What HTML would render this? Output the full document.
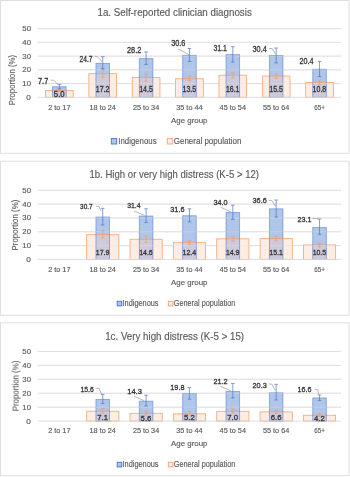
<!DOCTYPE html>
<html><head><meta charset="utf-8"><style>
html,body{margin:0;padding:0;background:#fff;width:350px;height:477px;overflow:hidden}
svg{display:block;will-change:transform;filter:blur(0.3px)}
text{font-family:"Liberation Sans", sans-serif}
</style></head><body>
<svg width="350" height="477" viewBox="0 0 350 477" style="font-family:'Liberation Sans', sans-serif">
<rect x="0.5" y="0.5" width="348.5" height="152.8" fill="#FFFFFF" stroke="#DEDEDE" stroke-width="1"/>
<text x="97.48" y="16.20" font-size="10.3" fill="#595959" stroke="#595959" stroke-width="0.14" textLength="154.33" lengthAdjust="spacingAndGlyphs" >1a. Self-reported clinician diagnosis</text>
<line x1="37.7" x2="341" y1="83.57" y2="83.57" stroke="#D9D9D9" stroke-width="0.9"/>
<line x1="37.7" x2="341" y1="69.84" y2="69.84" stroke="#D9D9D9" stroke-width="0.9"/>
<line x1="37.7" x2="341" y1="56.11" y2="56.11" stroke="#D9D9D9" stroke-width="0.9"/>
<line x1="37.7" x2="341" y1="42.38" y2="42.38" stroke="#D9D9D9" stroke-width="0.9"/>
<line x1="37.7" x2="341" y1="28.65" y2="28.65" stroke="#D9D9D9" stroke-width="0.9"/>
<text x="26.35" y="99.80" font-size="7.0" fill="#595959" stroke="#595959" stroke-width="0.14" textLength="4.63" lengthAdjust="spacingAndGlyphs" >0</text>
<text x="22.35" y="86.07" font-size="7.0" fill="#595959" stroke="#595959" stroke-width="0.14" textLength="8.63" lengthAdjust="spacingAndGlyphs" >10</text>
<text x="22.35" y="72.34" font-size="7.0" fill="#595959" stroke="#595959" stroke-width="0.14" textLength="8.63" lengthAdjust="spacingAndGlyphs" >20</text>
<text x="22.35" y="58.61" font-size="7.0" fill="#595959" stroke="#595959" stroke-width="0.14" textLength="8.63" lengthAdjust="spacingAndGlyphs" >30</text>
<text x="22.35" y="44.88" font-size="7.0" fill="#595959" stroke="#595959" stroke-width="0.14" textLength="8.63" lengthAdjust="spacingAndGlyphs" >40</text>
<text x="22.35" y="31.15" font-size="7.0" fill="#595959" stroke="#595959" stroke-width="0.14" textLength="8.63" lengthAdjust="spacingAndGlyphs" >50</text>
<rect x="45.53" y="90.44" width="27.70" height="6.86" fill="#FDEDE3" stroke="#F2A474" stroke-width="0.8"/>
<rect x="52.58" y="86.73" width="13.60" height="10.57" fill="#AFC5EA" stroke="none"/>
<rect x="52.58" y="90.44" width="13.60" height="6.86" fill="#CDCADC" stroke="none"/>
<line x1="52.58" x2="66.18" y1="90.44" y2="90.44" stroke="#EFA273" stroke-width="0.9"/>
<rect x="52.58" y="86.73" width="13.60" height="10.57" fill="none" stroke="#4472C4" stroke-width="0.9" stroke-opacity="0.55"/>
<rect x="88.89" y="73.68" width="27.70" height="23.62" fill="#FDEDE3" stroke="#F2A474" stroke-width="0.8"/>
<rect x="95.94" y="63.39" width="13.60" height="33.91" fill="#AFC5EA" stroke="none"/>
<rect x="95.94" y="73.68" width="13.60" height="23.62" fill="#CDCADC" stroke="none"/>
<line x1="95.94" x2="109.54" y1="73.68" y2="73.68" stroke="#EFA273" stroke-width="0.9"/>
<rect x="95.94" y="63.39" width="13.60" height="33.91" fill="none" stroke="#4472C4" stroke-width="0.9" stroke-opacity="0.55"/>
<rect x="132.25" y="77.39" width="27.70" height="19.91" fill="#FDEDE3" stroke="#F2A474" stroke-width="0.8"/>
<rect x="139.30" y="58.58" width="13.60" height="38.72" fill="#AFC5EA" stroke="none"/>
<rect x="139.30" y="77.39" width="13.60" height="19.91" fill="#CDCADC" stroke="none"/>
<line x1="139.30" x2="152.90" y1="77.39" y2="77.39" stroke="#EFA273" stroke-width="0.9"/>
<rect x="139.30" y="58.58" width="13.60" height="38.72" fill="none" stroke="#4472C4" stroke-width="0.9" stroke-opacity="0.55"/>
<rect x="175.61" y="78.76" width="27.70" height="18.54" fill="#FDEDE3" stroke="#F2A474" stroke-width="0.8"/>
<rect x="182.66" y="55.29" width="13.60" height="42.01" fill="#AFC5EA" stroke="none"/>
<rect x="182.66" y="78.76" width="13.60" height="18.54" fill="#CDCADC" stroke="none"/>
<line x1="182.66" x2="196.26" y1="78.76" y2="78.76" stroke="#EFA273" stroke-width="0.9"/>
<rect x="182.66" y="55.29" width="13.60" height="42.01" fill="none" stroke="#4472C4" stroke-width="0.9" stroke-opacity="0.55"/>
<rect x="218.97" y="75.19" width="27.70" height="22.11" fill="#FDEDE3" stroke="#F2A474" stroke-width="0.8"/>
<rect x="226.02" y="54.60" width="13.60" height="42.70" fill="#AFC5EA" stroke="none"/>
<rect x="226.02" y="75.19" width="13.60" height="22.11" fill="#CDCADC" stroke="none"/>
<line x1="226.02" x2="239.62" y1="75.19" y2="75.19" stroke="#EFA273" stroke-width="0.9"/>
<rect x="226.02" y="54.60" width="13.60" height="42.70" fill="none" stroke="#4472C4" stroke-width="0.9" stroke-opacity="0.55"/>
<rect x="262.33" y="76.02" width="27.70" height="21.28" fill="#FDEDE3" stroke="#F2A474" stroke-width="0.8"/>
<rect x="269.38" y="55.56" width="13.60" height="41.74" fill="#AFC5EA" stroke="none"/>
<rect x="269.38" y="76.02" width="13.60" height="21.28" fill="#CDCADC" stroke="none"/>
<line x1="269.38" x2="282.98" y1="76.02" y2="76.02" stroke="#EFA273" stroke-width="0.9"/>
<rect x="269.38" y="55.56" width="13.60" height="41.74" fill="none" stroke="#4472C4" stroke-width="0.9" stroke-opacity="0.55"/>
<rect x="305.69" y="82.47" width="27.70" height="14.83" fill="#FDEDE3" stroke="#F2A474" stroke-width="0.8"/>
<rect x="312.74" y="69.29" width="13.60" height="28.01" fill="#AFC5EA" stroke="none"/>
<rect x="312.74" y="82.47" width="13.60" height="14.83" fill="#CDCADC" stroke="none"/>
<line x1="312.74" x2="326.34" y1="82.47" y2="82.47" stroke="#EFA273" stroke-width="0.9"/>
<rect x="312.74" y="69.29" width="13.60" height="28.01" fill="none" stroke="#4472C4" stroke-width="0.9" stroke-opacity="0.55"/>
<line x1="37.7" x2="341" y1="83.57" y2="83.57" stroke="#E4E4E4" stroke-width="0.9" stroke-opacity="0.4"/>
<line x1="37.7" x2="341" y1="69.84" y2="69.84" stroke="#E4E4E4" stroke-width="0.9" stroke-opacity="0.4"/>
<line x1="37.7" x2="341" y1="56.11" y2="56.11" stroke="#E4E4E4" stroke-width="0.9" stroke-opacity="0.4"/>
<line x1="37.7" x2="341" y1="42.38" y2="42.38" stroke="#E4E4E4" stroke-width="0.9" stroke-opacity="0.4"/>
<line x1="37.7" x2="341" y1="28.65" y2="28.65" stroke="#E4E4E4" stroke-width="0.9" stroke-opacity="0.4"/>
<line x1="37.7" x2="341" y1="97.30" y2="97.30" stroke="#D9D9D9" stroke-width="0.9"/>
<path d="M59.38 89.20V91.20M57.58 89.20H61.18M57.58 91.20H61.18" stroke="#EE9D6A" stroke-width="0.7" fill="none"/>
<path d="M59.38 84.30V88.90M57.58 84.30H61.18M57.58 88.90H61.18" stroke="#4F75C2" stroke-width="0.7" fill="none"/>
<path d="M102.74 69.60V77.30M100.94 69.60H104.54M100.94 77.30H104.54" stroke="#EE9D6A" stroke-width="0.7" fill="none"/>
<path d="M102.74 56.70V68.80M100.94 56.70H104.54M100.94 68.80H104.54" stroke="#4F75C2" stroke-width="0.7" fill="none"/>
<path d="M146.10 74.20V81.10M144.30 74.20H147.90M144.30 81.10H147.90" stroke="#EE9D6A" stroke-width="0.7" fill="none"/>
<path d="M146.10 52.00V64.40M144.30 52.00H147.90M144.30 64.40H147.90" stroke="#4F75C2" stroke-width="0.7" fill="none"/>
<path d="M189.46 76.30V80.60M187.66 76.30H191.26M187.66 80.60H191.26" stroke="#EE9D6A" stroke-width="0.7" fill="none"/>
<path d="M189.46 48.50V61.50M187.66 48.50H191.26M187.66 61.50H191.26" stroke="#4F75C2" stroke-width="0.7" fill="none"/>
<path d="M232.82 72.40V78.00M231.02 72.40H234.62M231.02 78.00H234.62" stroke="#EE9D6A" stroke-width="0.7" fill="none"/>
<path d="M232.82 46.70V62.10M231.02 46.70H234.62M231.02 62.10H234.62" stroke="#4F75C2" stroke-width="0.7" fill="none"/>
<path d="M276.18 73.70V78.30M274.38 73.70H277.98M274.38 78.30H277.98" stroke="#EE9D6A" stroke-width="0.7" fill="none"/>
<path d="M276.18 48.00V62.90M274.38 48.00H277.98M274.38 62.90H277.98" stroke="#4F75C2" stroke-width="0.7" fill="none"/>
<path d="M319.54 80.00V84.30M317.74 80.00H321.34M317.74 84.30H321.34" stroke="#EE9D6A" stroke-width="0.7" fill="none"/>
<path d="M319.54 61.40V76.60M317.74 61.40H321.34M317.74 76.60H321.34" stroke="#4F75C2" stroke-width="0.7" fill="none"/>
<path d="M50.90 80.20 L53.60 80.30 L57.90 84.30" stroke="#A0A0A0" stroke-width="0.75" fill="none"/>
<path d="M94.50 56.40 L97.00 56.40 L102.00 61.30" stroke="#A0A0A0" stroke-width="0.75" fill="none"/>
<path d="M178.10 48.90 L189.00 54.70" stroke="#A0A0A0" stroke-width="0.75" fill="none"/>
<path d="M269.20 48.50 L272.00 48.50 L275.80 54.50" stroke="#A0A0A0" stroke-width="0.75" fill="none"/>
<text x="38.08" y="84.02" font-size="8.5" fill="#333333" stroke="#333333" stroke-width="0.3" textLength="10.10" lengthAdjust="spacingAndGlyphs" >7.7</text>
<text x="79.58" y="61.72" font-size="8.5" fill="#333333" stroke="#333333" stroke-width="0.3" textLength="12.89" lengthAdjust="spacingAndGlyphs" >24.7</text>
<text x="126.98" y="53.42" font-size="8.5" fill="#333333" stroke="#333333" stroke-width="0.3" textLength="14.29" lengthAdjust="spacingAndGlyphs" >28.2</text>
<text x="171.17" y="45.82" font-size="8.5" fill="#333333" stroke="#333333" stroke-width="0.3" textLength="14.30" lengthAdjust="spacingAndGlyphs" >30.6</text>
<text x="213.38" y="50.92" font-size="8.5" fill="#333333" stroke="#333333" stroke-width="0.3" textLength="13.49" lengthAdjust="spacingAndGlyphs" >31.1</text>
<text x="252.47" y="51.52" font-size="8.5" fill="#333333" stroke="#333333" stroke-width="0.3" textLength="14.30" lengthAdjust="spacingAndGlyphs" >30.4</text>
<text x="299.57" y="64.32" font-size="8.5" fill="#333333" stroke="#333333" stroke-width="0.3" textLength="13.99" lengthAdjust="spacingAndGlyphs" >20.4</text>
<text x="53.86" y="96.92" font-size="8.5" fill="#333333" stroke="#333333" stroke-width="0.3" textLength="10.80" lengthAdjust="spacingAndGlyphs" >5.0</text>
<text x="95.81" y="92.12" font-size="8.5" fill="#333333" stroke="#333333" stroke-width="0.3" textLength="13.60" lengthAdjust="spacingAndGlyphs" >17.2</text>
<text x="139.18" y="92.12" font-size="8.5" fill="#333333" stroke="#333333" stroke-width="0.3" textLength="13.60" lengthAdjust="spacingAndGlyphs" >14.5</text>
<text x="182.53" y="92.12" font-size="8.5" fill="#333333" stroke="#333333" stroke-width="0.3" textLength="13.60" lengthAdjust="spacingAndGlyphs" >13.5</text>
<text x="225.89" y="92.12" font-size="8.5" fill="#333333" stroke="#333333" stroke-width="0.3" textLength="13.60" lengthAdjust="spacingAndGlyphs" >16.1</text>
<text x="269.25" y="92.12" font-size="8.5" fill="#333333" stroke="#333333" stroke-width="0.3" textLength="13.60" lengthAdjust="spacingAndGlyphs" >15.5</text>
<text x="312.61" y="92.12" font-size="8.5" fill="#333333" stroke="#333333" stroke-width="0.3" textLength="13.60" lengthAdjust="spacingAndGlyphs" >10.8</text>
<text x="48.16" y="109.70" font-size="7.3" fill="#595959" stroke="#595959" stroke-width="0.14" textLength="22.36" lengthAdjust="spacingAndGlyphs" >2 to 17</text>
<text x="89.53" y="109.70" font-size="7.3" fill="#595959" stroke="#595959" stroke-width="0.14" textLength="26.36" lengthAdjust="spacingAndGlyphs" >18 to 24</text>
<text x="132.89" y="109.70" font-size="7.3" fill="#595959" stroke="#595959" stroke-width="0.14" textLength="26.36" lengthAdjust="spacingAndGlyphs" >25 to 34</text>
<text x="176.24" y="109.70" font-size="7.3" fill="#595959" stroke="#595959" stroke-width="0.14" textLength="26.36" lengthAdjust="spacingAndGlyphs" >35 to 44</text>
<text x="219.60" y="109.70" font-size="7.3" fill="#595959" stroke="#595959" stroke-width="0.14" textLength="26.36" lengthAdjust="spacingAndGlyphs" >45 to 54</text>
<text x="262.96" y="109.70" font-size="7.3" fill="#595959" stroke="#595959" stroke-width="0.14" textLength="26.36" lengthAdjust="spacingAndGlyphs" >55 to 64</text>
<text x="314.17" y="109.70" font-size="7.3" fill="#595959" stroke="#595959" stroke-width="0.14" textLength="10.66" lengthAdjust="spacingAndGlyphs" >65+</text>
<text x="171.06" y="122.60" font-size="7.9" fill="#595959" stroke="#595959" stroke-width="0.14" textLength="36.41" lengthAdjust="spacingAndGlyphs" >Age group</text>
<rect x="111.30" y="138.60" width="5.40" height="5.40" fill="#AFC5EA" stroke="#4472C4" stroke-width="0.9"/>
<rect x="167.30" y="138.60" width="5.40" height="5.40" fill="#FDEDE3" stroke="#F2A474" stroke-width="0.9"/>
<text x="118.36" y="143.90" font-size="8.8" fill="#595959" stroke="#595959" stroke-width="0.14" textLength="38.19" lengthAdjust="spacingAndGlyphs" >Indigenous</text>
<text x="173.76" y="143.90" font-size="8.8" fill="#595959" stroke="#595959" stroke-width="0.14" textLength="67.59" lengthAdjust="spacingAndGlyphs" >General population</text>
<text transform="translate(12.60 80.10) rotate(-90)" x="-25.20" y="2.7" font-size="8.2" fill="#595959" stroke="#595959" stroke-width="0.1" textLength="50.40" lengthAdjust="spacingAndGlyphs">Proportion (%)</text>
<rect x="0.5" y="161.2" width="348.5" height="154.1" fill="#FFFFFF" stroke="#DEDEDE" stroke-width="1"/>
<text x="89.48" y="177.80" font-size="10.3" fill="#595959" stroke="#595959" stroke-width="0.14" textLength="169.53" lengthAdjust="spacingAndGlyphs" >1b. High or very high distress (K-5 &gt; 12)</text>
<line x1="37.7" x2="341" y1="245.62" y2="245.62" stroke="#D9D9D9" stroke-width="0.9"/>
<line x1="37.7" x2="341" y1="231.79" y2="231.79" stroke="#D9D9D9" stroke-width="0.9"/>
<line x1="37.7" x2="341" y1="217.96" y2="217.96" stroke="#D9D9D9" stroke-width="0.9"/>
<line x1="37.7" x2="341" y1="204.13" y2="204.13" stroke="#D9D9D9" stroke-width="0.9"/>
<line x1="37.7" x2="341" y1="190.30" y2="190.30" stroke="#D9D9D9" stroke-width="0.9"/>
<text x="26.35" y="261.95" font-size="7.0" fill="#595959" stroke="#595959" stroke-width="0.14" textLength="4.63" lengthAdjust="spacingAndGlyphs" >0</text>
<text x="22.35" y="248.12" font-size="7.0" fill="#595959" stroke="#595959" stroke-width="0.14" textLength="8.63" lengthAdjust="spacingAndGlyphs" >10</text>
<text x="22.35" y="234.29" font-size="7.0" fill="#595959" stroke="#595959" stroke-width="0.14" textLength="8.63" lengthAdjust="spacingAndGlyphs" >20</text>
<text x="22.35" y="220.46" font-size="7.0" fill="#595959" stroke="#595959" stroke-width="0.14" textLength="8.63" lengthAdjust="spacingAndGlyphs" >30</text>
<text x="22.35" y="206.63" font-size="7.0" fill="#595959" stroke="#595959" stroke-width="0.14" textLength="8.63" lengthAdjust="spacingAndGlyphs" >40</text>
<text x="22.35" y="192.80" font-size="7.0" fill="#595959" stroke="#595959" stroke-width="0.14" textLength="8.63" lengthAdjust="spacingAndGlyphs" >50</text>
<rect x="86.64" y="234.69" width="32.20" height="24.76" fill="#FDEDE3" stroke="#F2A474" stroke-width="0.8"/>
<rect x="95.94" y="216.99" width="13.60" height="42.46" fill="#AFC5EA" stroke="none"/>
<rect x="95.94" y="234.69" width="13.60" height="24.76" fill="#CDCADC" stroke="none"/>
<line x1="95.94" x2="109.54" y1="234.69" y2="234.69" stroke="#EFA273" stroke-width="0.9"/>
<rect x="95.94" y="216.99" width="13.60" height="42.46" fill="none" stroke="#4472C4" stroke-width="0.9" stroke-opacity="0.55"/>
<rect x="130.00" y="239.26" width="32.20" height="20.19" fill="#FDEDE3" stroke="#F2A474" stroke-width="0.8"/>
<rect x="139.30" y="216.02" width="13.60" height="43.43" fill="#AFC5EA" stroke="none"/>
<rect x="139.30" y="239.26" width="13.60" height="20.19" fill="#CDCADC" stroke="none"/>
<line x1="139.30" x2="152.90" y1="239.26" y2="239.26" stroke="#EFA273" stroke-width="0.9"/>
<rect x="139.30" y="216.02" width="13.60" height="43.43" fill="none" stroke="#4472C4" stroke-width="0.9" stroke-opacity="0.55"/>
<rect x="173.36" y="242.30" width="32.20" height="17.15" fill="#FDEDE3" stroke="#F2A474" stroke-width="0.8"/>
<rect x="182.66" y="215.75" width="13.60" height="43.70" fill="#AFC5EA" stroke="none"/>
<rect x="182.66" y="242.30" width="13.60" height="17.15" fill="#CDCADC" stroke="none"/>
<line x1="182.66" x2="196.26" y1="242.30" y2="242.30" stroke="#EFA273" stroke-width="0.9"/>
<rect x="182.66" y="215.75" width="13.60" height="43.70" fill="none" stroke="#4472C4" stroke-width="0.9" stroke-opacity="0.55"/>
<rect x="216.72" y="238.84" width="32.20" height="20.61" fill="#FDEDE3" stroke="#F2A474" stroke-width="0.8"/>
<rect x="226.02" y="212.43" width="13.60" height="47.02" fill="#AFC5EA" stroke="none"/>
<rect x="226.02" y="238.84" width="13.60" height="20.61" fill="#CDCADC" stroke="none"/>
<line x1="226.02" x2="239.62" y1="238.84" y2="238.84" stroke="#EFA273" stroke-width="0.9"/>
<rect x="226.02" y="212.43" width="13.60" height="47.02" fill="none" stroke="#4472C4" stroke-width="0.9" stroke-opacity="0.55"/>
<rect x="260.08" y="238.57" width="32.20" height="20.88" fill="#FDEDE3" stroke="#F2A474" stroke-width="0.8"/>
<rect x="269.38" y="208.83" width="13.60" height="50.62" fill="#AFC5EA" stroke="none"/>
<rect x="269.38" y="238.57" width="13.60" height="20.88" fill="#CDCADC" stroke="none"/>
<line x1="269.38" x2="282.98" y1="238.57" y2="238.57" stroke="#EFA273" stroke-width="0.9"/>
<rect x="269.38" y="208.83" width="13.60" height="50.62" fill="none" stroke="#4472C4" stroke-width="0.9" stroke-opacity="0.55"/>
<rect x="303.44" y="244.93" width="32.20" height="14.52" fill="#FDEDE3" stroke="#F2A474" stroke-width="0.8"/>
<rect x="312.74" y="227.50" width="13.60" height="31.95" fill="#AFC5EA" stroke="none"/>
<rect x="312.74" y="244.93" width="13.60" height="14.52" fill="#CDCADC" stroke="none"/>
<line x1="312.74" x2="326.34" y1="244.93" y2="244.93" stroke="#EFA273" stroke-width="0.9"/>
<rect x="312.74" y="227.50" width="13.60" height="31.95" fill="none" stroke="#4472C4" stroke-width="0.9" stroke-opacity="0.55"/>
<line x1="37.7" x2="341" y1="245.62" y2="245.62" stroke="#E4E4E4" stroke-width="0.9" stroke-opacity="0.4"/>
<line x1="37.7" x2="341" y1="231.79" y2="231.79" stroke="#E4E4E4" stroke-width="0.9" stroke-opacity="0.4"/>
<line x1="37.7" x2="341" y1="217.96" y2="217.96" stroke="#E4E4E4" stroke-width="0.9" stroke-opacity="0.4"/>
<line x1="37.7" x2="341" y1="204.13" y2="204.13" stroke="#E4E4E4" stroke-width="0.9" stroke-opacity="0.4"/>
<line x1="37.7" x2="341" y1="190.30" y2="190.30" stroke="#E4E4E4" stroke-width="0.9" stroke-opacity="0.4"/>
<line x1="37.7" x2="341" y1="259.45" y2="259.45" stroke="#D9D9D9" stroke-width="0.9"/>
<path d="M102.74 230.60V237.80M100.94 230.60H104.54M100.94 237.80H104.54" stroke="#EE9D6A" stroke-width="0.7" fill="none"/>
<path d="M102.74 208.30V225.00M100.94 208.30H104.54M100.94 225.00H104.54" stroke="#4F75C2" stroke-width="0.7" fill="none"/>
<path d="M146.10 236.00V242.50M144.30 236.00H147.90M144.30 242.50H147.90" stroke="#EE9D6A" stroke-width="0.7" fill="none"/>
<path d="M146.10 208.80V222.40M144.30 208.80H147.90M144.30 222.40H147.90" stroke="#4F75C2" stroke-width="0.7" fill="none"/>
<path d="M189.46 240.40V244.30M187.66 240.40H191.26M187.66 244.30H191.26" stroke="#EE9D6A" stroke-width="0.7" fill="none"/>
<path d="M189.46 208.80V221.90M187.66 208.80H191.26M187.66 221.90H191.26" stroke="#4F75C2" stroke-width="0.7" fill="none"/>
<path d="M232.82 236.60V241.20M231.02 236.60H234.62M231.02 241.20H234.62" stroke="#EE9D6A" stroke-width="0.7" fill="none"/>
<path d="M232.82 205.20V219.30M231.02 205.20H234.62M231.02 219.30H234.62" stroke="#4F75C2" stroke-width="0.7" fill="none"/>
<path d="M276.18 236.30V240.90M274.38 236.30H277.98M274.38 240.90H277.98" stroke="#EE9D6A" stroke-width="0.7" fill="none"/>
<path d="M276.18 200.00V217.10M274.38 200.00H277.98M274.38 217.10H277.98" stroke="#4F75C2" stroke-width="0.7" fill="none"/>
<path d="M319.54 243.40V247.10M317.74 243.40H321.34M317.74 247.10H321.34" stroke="#EE9D6A" stroke-width="0.7" fill="none"/>
<path d="M319.54 219.10V234.30M317.74 219.10H321.34M317.74 234.30H321.34" stroke="#4F75C2" stroke-width="0.7" fill="none"/>
<path d="M96.20 206.30 L99.00 206.50 L101.00 211.00" stroke="#A0A0A0" stroke-width="0.75" fill="none"/>
<path d="M134.10 211.20 L144.50 215.20" stroke="#A0A0A0" stroke-width="0.75" fill="none"/>
<path d="M220.70 207.30 L231.00 212.00" stroke="#A0A0A0" stroke-width="0.75" fill="none"/>
<path d="M269.20 200.50 L271.80 200.50 L275.60 206.50" stroke="#A0A0A0" stroke-width="0.75" fill="none"/>
<path d="M312.50 218.60 L317.00 218.60 L319.50 219.20" stroke="#A0A0A0" stroke-width="0.75" fill="none"/>
<text x="80.10" y="209.05" font-size="8.0" fill="#333333" stroke="#333333" stroke-width="0.3" textLength="12.56" lengthAdjust="spacingAndGlyphs" >30.7</text>
<text x="127.20" y="208.45" font-size="8.0" fill="#333333" stroke="#333333" stroke-width="0.3" textLength="13.36" lengthAdjust="spacingAndGlyphs" >31.4</text>
<text x="170.30" y="211.55" font-size="8.0" fill="#333333" stroke="#333333" stroke-width="0.3" textLength="14.16" lengthAdjust="spacingAndGlyphs" >31.6</text>
<text x="213.40" y="204.65" font-size="8.0" fill="#333333" stroke="#333333" stroke-width="0.3" textLength="14.26" lengthAdjust="spacingAndGlyphs" >34.0</text>
<text x="252.50" y="203.35" font-size="8.0" fill="#333333" stroke="#333333" stroke-width="0.3" textLength="14.26" lengthAdjust="spacingAndGlyphs" >36.6</text>
<text x="297.60" y="222.15" font-size="8.0" fill="#333333" stroke="#333333" stroke-width="0.3" textLength="13.96" lengthAdjust="spacingAndGlyphs" >23.1</text>
<text x="95.84" y="254.55" font-size="8.0" fill="#333333" stroke="#333333" stroke-width="0.3" textLength="13.56" lengthAdjust="spacingAndGlyphs" >17.9</text>
<text x="139.20" y="254.55" font-size="8.0" fill="#333333" stroke="#333333" stroke-width="0.3" textLength="13.56" lengthAdjust="spacingAndGlyphs" >14.6</text>
<text x="182.56" y="254.55" font-size="8.0" fill="#333333" stroke="#333333" stroke-width="0.3" textLength="13.56" lengthAdjust="spacingAndGlyphs" >12.4</text>
<text x="225.92" y="254.55" font-size="8.0" fill="#333333" stroke="#333333" stroke-width="0.3" textLength="13.56" lengthAdjust="spacingAndGlyphs" >14.9</text>
<text x="269.28" y="254.55" font-size="8.0" fill="#333333" stroke="#333333" stroke-width="0.3" textLength="13.56" lengthAdjust="spacingAndGlyphs" >15.1</text>
<text x="312.64" y="254.55" font-size="8.0" fill="#333333" stroke="#333333" stroke-width="0.3" textLength="13.56" lengthAdjust="spacingAndGlyphs" >10.5</text>
<text x="48.16" y="271.80" font-size="7.3" fill="#595959" stroke="#595959" stroke-width="0.14" textLength="22.36" lengthAdjust="spacingAndGlyphs" >2 to 17</text>
<text x="89.53" y="271.80" font-size="7.3" fill="#595959" stroke="#595959" stroke-width="0.14" textLength="26.36" lengthAdjust="spacingAndGlyphs" >18 to 24</text>
<text x="132.89" y="271.80" font-size="7.3" fill="#595959" stroke="#595959" stroke-width="0.14" textLength="26.36" lengthAdjust="spacingAndGlyphs" >25 to 34</text>
<text x="176.24" y="271.80" font-size="7.3" fill="#595959" stroke="#595959" stroke-width="0.14" textLength="26.36" lengthAdjust="spacingAndGlyphs" >35 to 44</text>
<text x="219.60" y="271.80" font-size="7.3" fill="#595959" stroke="#595959" stroke-width="0.14" textLength="26.36" lengthAdjust="spacingAndGlyphs" >45 to 54</text>
<text x="262.96" y="271.80" font-size="7.3" fill="#595959" stroke="#595959" stroke-width="0.14" textLength="26.36" lengthAdjust="spacingAndGlyphs" >55 to 64</text>
<text x="314.17" y="271.80" font-size="7.3" fill="#595959" stroke="#595959" stroke-width="0.14" textLength="10.66" lengthAdjust="spacingAndGlyphs" >65+</text>
<text x="171.06" y="284.60" font-size="7.9" fill="#595959" stroke="#595959" stroke-width="0.14" textLength="36.41" lengthAdjust="spacingAndGlyphs" >Age group</text>
<rect x="117.20" y="301.30" width="4.60" height="4.60" fill="#AFC5EA" stroke="#4472C4" stroke-width="0.9"/>
<rect x="168.30" y="301.30" width="4.60" height="4.60" fill="#FDEDE3" stroke="#F2A474" stroke-width="0.9"/>
<text x="122.59" y="306.20" font-size="8.2" fill="#595959" stroke="#595959" stroke-width="0.14" textLength="35.94" lengthAdjust="spacingAndGlyphs" >Indigenous</text>
<text x="173.79" y="306.20" font-size="8.2" fill="#595959" stroke="#595959" stroke-width="0.14" textLength="61.54" lengthAdjust="spacingAndGlyphs" >General population</text>
<text transform="translate(15.60 225.10) rotate(-90)" x="-25.40" y="2.7" font-size="8.2" fill="#595959" stroke="#595959" stroke-width="0.1" textLength="50.80" lengthAdjust="spacingAndGlyphs">Proportion (%)</text>
<rect x="0.5" y="322.8" width="348.5" height="152.9" fill="#FFFFFF" stroke="#DEDEDE" stroke-width="1"/>
<text x="105.19" y="339.80" font-size="10.3" fill="#595959" stroke="#595959" stroke-width="0.14" textLength="138.93" lengthAdjust="spacingAndGlyphs" >1c. Very high distress (K-5 &gt; 15)</text>
<line x1="37.7" x2="341" y1="407.16" y2="407.16" stroke="#D9D9D9" stroke-width="0.9"/>
<line x1="37.7" x2="341" y1="393.22" y2="393.22" stroke="#D9D9D9" stroke-width="0.9"/>
<line x1="37.7" x2="341" y1="379.28" y2="379.28" stroke="#D9D9D9" stroke-width="0.9"/>
<line x1="37.7" x2="341" y1="365.34" y2="365.34" stroke="#D9D9D9" stroke-width="0.9"/>
<line x1="37.7" x2="341" y1="351.40" y2="351.40" stroke="#D9D9D9" stroke-width="0.9"/>
<text x="26.35" y="423.60" font-size="7.0" fill="#595959" stroke="#595959" stroke-width="0.14" textLength="4.63" lengthAdjust="spacingAndGlyphs" >0</text>
<text x="22.35" y="409.66" font-size="7.0" fill="#595959" stroke="#595959" stroke-width="0.14" textLength="8.63" lengthAdjust="spacingAndGlyphs" >10</text>
<text x="22.35" y="395.72" font-size="7.0" fill="#595959" stroke="#595959" stroke-width="0.14" textLength="8.63" lengthAdjust="spacingAndGlyphs" >20</text>
<text x="22.35" y="381.78" font-size="7.0" fill="#595959" stroke="#595959" stroke-width="0.14" textLength="8.63" lengthAdjust="spacingAndGlyphs" >30</text>
<text x="22.35" y="367.84" font-size="7.0" fill="#595959" stroke="#595959" stroke-width="0.14" textLength="8.63" lengthAdjust="spacingAndGlyphs" >40</text>
<text x="22.35" y="353.90" font-size="7.0" fill="#595959" stroke="#595959" stroke-width="0.14" textLength="8.63" lengthAdjust="spacingAndGlyphs" >50</text>
<rect x="86.64" y="411.20" width="32.20" height="9.90" fill="#FDEDE3" stroke="#F2A474" stroke-width="0.8"/>
<rect x="95.94" y="399.35" width="13.60" height="21.75" fill="#AFC5EA" stroke="none"/>
<rect x="95.94" y="411.20" width="13.60" height="9.90" fill="#CDCADC" stroke="none"/>
<line x1="95.94" x2="109.54" y1="411.20" y2="411.20" stroke="#EFA273" stroke-width="0.9"/>
<rect x="95.94" y="399.35" width="13.60" height="21.75" fill="none" stroke="#4472C4" stroke-width="0.9" stroke-opacity="0.55"/>
<rect x="130.00" y="413.29" width="32.20" height="7.81" fill="#FDEDE3" stroke="#F2A474" stroke-width="0.8"/>
<rect x="139.30" y="401.17" width="13.60" height="19.93" fill="#AFC5EA" stroke="none"/>
<rect x="139.30" y="413.29" width="13.60" height="7.81" fill="#CDCADC" stroke="none"/>
<line x1="139.30" x2="152.90" y1="413.29" y2="413.29" stroke="#EFA273" stroke-width="0.9"/>
<rect x="139.30" y="401.17" width="13.60" height="19.93" fill="none" stroke="#4472C4" stroke-width="0.9" stroke-opacity="0.55"/>
<rect x="173.36" y="413.85" width="32.20" height="7.25" fill="#FDEDE3" stroke="#F2A474" stroke-width="0.8"/>
<rect x="182.66" y="393.50" width="13.60" height="27.60" fill="#AFC5EA" stroke="none"/>
<rect x="182.66" y="413.85" width="13.60" height="7.25" fill="#CDCADC" stroke="none"/>
<line x1="182.66" x2="196.26" y1="413.85" y2="413.85" stroke="#EFA273" stroke-width="0.9"/>
<rect x="182.66" y="393.50" width="13.60" height="27.60" fill="none" stroke="#4472C4" stroke-width="0.9" stroke-opacity="0.55"/>
<rect x="216.72" y="411.34" width="32.20" height="9.76" fill="#FDEDE3" stroke="#F2A474" stroke-width="0.8"/>
<rect x="226.02" y="391.55" width="13.60" height="29.55" fill="#AFC5EA" stroke="none"/>
<rect x="226.02" y="411.34" width="13.60" height="9.76" fill="#CDCADC" stroke="none"/>
<line x1="226.02" x2="239.62" y1="411.34" y2="411.34" stroke="#EFA273" stroke-width="0.9"/>
<rect x="226.02" y="391.55" width="13.60" height="29.55" fill="none" stroke="#4472C4" stroke-width="0.9" stroke-opacity="0.55"/>
<rect x="260.08" y="411.90" width="32.20" height="9.20" fill="#FDEDE3" stroke="#F2A474" stroke-width="0.8"/>
<rect x="269.38" y="392.80" width="13.60" height="28.30" fill="#AFC5EA" stroke="none"/>
<rect x="269.38" y="411.90" width="13.60" height="9.20" fill="#CDCADC" stroke="none"/>
<line x1="269.38" x2="282.98" y1="411.90" y2="411.90" stroke="#EFA273" stroke-width="0.9"/>
<rect x="269.38" y="392.80" width="13.60" height="28.30" fill="none" stroke="#4472C4" stroke-width="0.9" stroke-opacity="0.55"/>
<rect x="303.44" y="415.25" width="32.20" height="5.85" fill="#FDEDE3" stroke="#F2A474" stroke-width="0.8"/>
<rect x="312.74" y="397.96" width="13.60" height="23.14" fill="#AFC5EA" stroke="none"/>
<rect x="312.74" y="415.25" width="13.60" height="5.85" fill="#CDCADC" stroke="none"/>
<line x1="312.74" x2="326.34" y1="415.25" y2="415.25" stroke="#EFA273" stroke-width="0.9"/>
<rect x="312.74" y="397.96" width="13.60" height="23.14" fill="none" stroke="#4472C4" stroke-width="0.9" stroke-opacity="0.55"/>
<line x1="37.7" x2="341" y1="407.16" y2="407.16" stroke="#E4E4E4" stroke-width="0.9" stroke-opacity="0.4"/>
<line x1="37.7" x2="341" y1="393.22" y2="393.22" stroke="#E4E4E4" stroke-width="0.9" stroke-opacity="0.4"/>
<line x1="37.7" x2="341" y1="379.28" y2="379.28" stroke="#E4E4E4" stroke-width="0.9" stroke-opacity="0.4"/>
<line x1="37.7" x2="341" y1="365.34" y2="365.34" stroke="#E4E4E4" stroke-width="0.9" stroke-opacity="0.4"/>
<line x1="37.7" x2="341" y1="351.40" y2="351.40" stroke="#E4E4E4" stroke-width="0.9" stroke-opacity="0.4"/>
<line x1="37.7" x2="341" y1="421.10" y2="421.10" stroke="#D9D9D9" stroke-width="0.9"/>
<path d="M102.74 408.60V413.20M100.94 408.60H104.54M100.94 413.20H104.54" stroke="#EE9D6A" stroke-width="0.7" fill="none"/>
<path d="M102.74 394.40V403.40M100.94 394.40H104.54M100.94 403.40H104.54" stroke="#4F75C2" stroke-width="0.7" fill="none"/>
<path d="M146.10 411.00V415.00M144.30 411.00H147.90M144.30 415.00H147.90" stroke="#EE9D6A" stroke-width="0.7" fill="none"/>
<path d="M146.10 395.20V406.00M144.30 395.20H147.90M144.30 406.00H147.90" stroke="#4F75C2" stroke-width="0.7" fill="none"/>
<path d="M189.46 411.30V415.10M187.66 411.30H191.26M187.66 415.10H191.26" stroke="#EE9D6A" stroke-width="0.7" fill="none"/>
<path d="M189.46 387.60V399.20M187.66 387.60H191.26M187.66 399.20H191.26" stroke="#4F75C2" stroke-width="0.7" fill="none"/>
<path d="M232.82 409.20V413.30M231.02 409.20H234.62M231.02 413.30H234.62" stroke="#EE9D6A" stroke-width="0.7" fill="none"/>
<path d="M232.82 383.50V397.90M231.02 383.50H234.62M231.02 397.90H234.62" stroke="#4F75C2" stroke-width="0.7" fill="none"/>
<path d="M276.18 410.00V413.40M274.38 410.00H277.98M274.38 413.40H277.98" stroke="#EE9D6A" stroke-width="0.7" fill="none"/>
<path d="M276.18 384.30V400.00M274.38 384.30H277.98M274.38 400.00H277.98" stroke="#4F75C2" stroke-width="0.7" fill="none"/>
<path d="M319.54 413.70V416.30M317.74 413.70H321.34M317.74 416.30H321.34" stroke="#EE9D6A" stroke-width="0.7" fill="none"/>
<path d="M319.54 394.90V400.60M317.74 394.90H321.34M317.74 400.60H321.34" stroke="#4F75C2" stroke-width="0.7" fill="none"/>
<path d="M96.20 388.30 L99.00 388.50 L101.60 394.20" stroke="#A0A0A0" stroke-width="0.75" fill="none"/>
<path d="M134.10 396.30 L144.00 400.60" stroke="#A0A0A0" stroke-width="0.75" fill="none"/>
<path d="M220.40 386.30 L231.00 391.00" stroke="#A0A0A0" stroke-width="0.75" fill="none"/>
<path d="M268.90 384.10 L271.80 384.10 L275.20 390.50" stroke="#A0A0A0" stroke-width="0.75" fill="none"/>
<path d="M314.60 389.30 L317.70 389.50 L318.60 394.80" stroke="#A0A0A0" stroke-width="0.75" fill="none"/>
<text x="80.40" y="391.65" font-size="8.0" fill="#333333" stroke="#333333" stroke-width="0.3" textLength="13.36" lengthAdjust="spacingAndGlyphs" >15.6</text>
<text x="127.20" y="394.05" font-size="8.0" fill="#333333" stroke="#333333" stroke-width="0.3" textLength="14.66" lengthAdjust="spacingAndGlyphs" >14.3</text>
<text x="170.30" y="389.65" font-size="8.0" fill="#333333" stroke="#333333" stroke-width="0.3" textLength="14.16" lengthAdjust="spacingAndGlyphs" >19.8</text>
<text x="213.40" y="383.75" font-size="8.0" fill="#333333" stroke="#333333" stroke-width="0.3" textLength="14.26" lengthAdjust="spacingAndGlyphs" >21.2</text>
<text x="252.50" y="387.85" font-size="8.0" fill="#333333" stroke="#333333" stroke-width="0.3" textLength="14.26" lengthAdjust="spacingAndGlyphs" >20.3</text>
<text x="297.60" y="391.85" font-size="8.0" fill="#333333" stroke="#333333" stroke-width="0.3" textLength="13.96" lengthAdjust="spacingAndGlyphs" >16.6</text>
<text x="97.24" y="420.35" font-size="8.0" fill="#333333" stroke="#333333" stroke-width="0.3" textLength="10.76" lengthAdjust="spacingAndGlyphs" >7.1</text>
<text x="140.60" y="420.75" font-size="8.0" fill="#333333" stroke="#333333" stroke-width="0.3" textLength="10.76" lengthAdjust="spacingAndGlyphs" >5.6</text>
<text x="183.96" y="420.45" font-size="8.0" fill="#333333" stroke="#333333" stroke-width="0.3" textLength="10.76" lengthAdjust="spacingAndGlyphs" >5.2</text>
<text x="227.32" y="420.45" font-size="8.0" fill="#333333" stroke="#333333" stroke-width="0.3" textLength="10.76" lengthAdjust="spacingAndGlyphs" >7.0</text>
<text x="270.68" y="420.45" font-size="8.0" fill="#333333" stroke="#333333" stroke-width="0.3" textLength="10.76" lengthAdjust="spacingAndGlyphs" >6.6</text>
<text x="314.04" y="421.35" font-size="8.0" fill="#333333" stroke="#333333" stroke-width="0.3" textLength="10.76" lengthAdjust="spacingAndGlyphs" >4.2</text>
<text x="48.16" y="433.10" font-size="7.3" fill="#595959" stroke="#595959" stroke-width="0.14" textLength="22.36" lengthAdjust="spacingAndGlyphs" >2 to 17</text>
<text x="89.53" y="433.10" font-size="7.3" fill="#595959" stroke="#595959" stroke-width="0.14" textLength="26.36" lengthAdjust="spacingAndGlyphs" >18 to 24</text>
<text x="132.89" y="433.10" font-size="7.3" fill="#595959" stroke="#595959" stroke-width="0.14" textLength="26.36" lengthAdjust="spacingAndGlyphs" >25 to 34</text>
<text x="176.24" y="433.10" font-size="7.3" fill="#595959" stroke="#595959" stroke-width="0.14" textLength="26.36" lengthAdjust="spacingAndGlyphs" >35 to 44</text>
<text x="219.60" y="433.10" font-size="7.3" fill="#595959" stroke="#595959" stroke-width="0.14" textLength="26.36" lengthAdjust="spacingAndGlyphs" >45 to 54</text>
<text x="262.96" y="433.10" font-size="7.3" fill="#595959" stroke="#595959" stroke-width="0.14" textLength="26.36" lengthAdjust="spacingAndGlyphs" >55 to 64</text>
<text x="314.17" y="433.10" font-size="7.3" fill="#595959" stroke="#595959" stroke-width="0.14" textLength="10.66" lengthAdjust="spacingAndGlyphs" >65+</text>
<text x="171.06" y="445.50" font-size="7.9" fill="#595959" stroke="#595959" stroke-width="0.14" textLength="36.41" lengthAdjust="spacingAndGlyphs" >Age group</text>
<rect x="117.20" y="462.30" width="4.60" height="4.60" fill="#AFC5EA" stroke="#4472C4" stroke-width="0.9"/>
<rect x="168.30" y="462.30" width="4.60" height="4.60" fill="#FDEDE3" stroke="#F2A474" stroke-width="0.9"/>
<text x="122.59" y="467.20" font-size="8.2" fill="#595959" stroke="#595959" stroke-width="0.14" textLength="35.94" lengthAdjust="spacingAndGlyphs" >Indigenous</text>
<text x="173.79" y="467.20" font-size="8.2" fill="#595959" stroke="#595959" stroke-width="0.14" textLength="61.54" lengthAdjust="spacingAndGlyphs" >General population</text>
<text transform="translate(15.60 386.00) rotate(-90)" x="-25.30" y="2.7" font-size="8.2" fill="#595959" stroke="#595959" stroke-width="0.1" textLength="50.60" lengthAdjust="spacingAndGlyphs">Proportion (%)</text>
</svg>
</body></html>
